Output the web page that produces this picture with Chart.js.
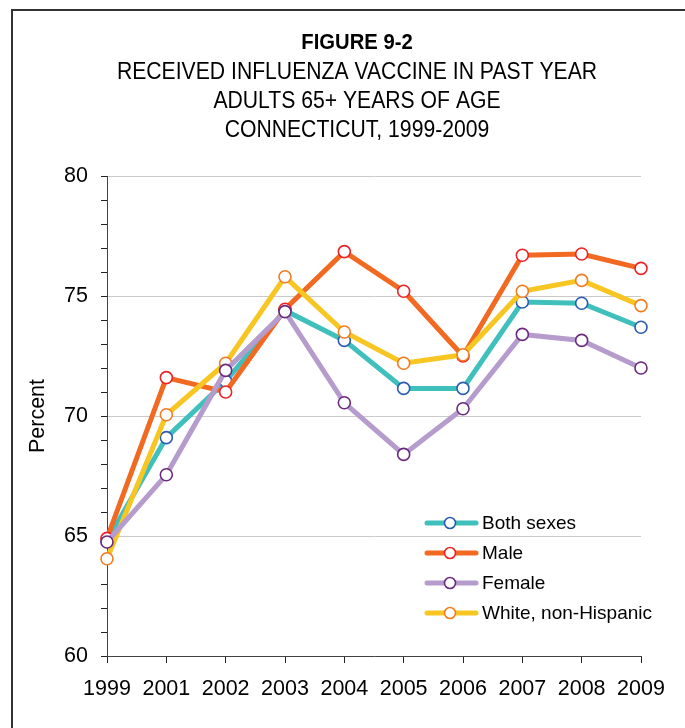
<!DOCTYPE html>
<html>
<head>
<meta charset="utf-8">
<script src="https://cdn.jsdelivr.net/npm/chart.js@4/dist/chart.umd.min.js"></script>
<style>
  html, body { margin: 0; padding: 0; background: #fff; }
  #wrap { position: relative; width: 685px; height: 728px; overflow: hidden; }
  #frame { position: absolute; left: 11px; top: 9px; width: 720px; height: 760px;
           border-left: 2px solid #333; border-top: 2px solid #333; }
  canvas { position: absolute; left: 0; top: 0; }
</style>
</head>
<body>
<div id="wrap">
  <div id="frame"></div>
  <canvas id="chart" width="685" height="728"></canvas>
</div>
<script>
// Survey years (2000 was not collected)
const years = ['1999', '2001', '2002', '2003', '2004', '2005', '2006', '2007', '2008', '2009'];

// Percent of adults 65+ who received a flu shot in the past year
const bothSexes        = [64.8, 69.1, 71.45, 74.4, 73.15, 71.15, 71.15, 74.75, 74.7, 73.7];
const male             = [64.9, 71.6, 71.0, 74.45, 76.85, 75.2, 72.5, 76.7, 76.75, 76.15];
const female           = [64.75, 67.55, 71.9, 74.35, 70.55, 68.4, 70.3, 73.4, 73.15, 72.0];
const whiteNonHispanic = [64.05, 70.05, 72.2, 75.8, 73.5, 72.2, 72.55, 75.2, 75.65, 74.6];

const seriesNames = ['Both sexes', 'Male', 'Female', 'White, non-Hispanic'];

const figureLabel = 'FIGURE 9-2';
const titleLines = [
  'RECEIVED INFLUENZA VACCINE IN PAST YEAR',
  'ADULTS 65+ YEARS OF AGE',
  'CONNECTICUT, 1999-2009'
];

const SANS = '"Liberation Sans", Arial, sans-serif';

function series(label, data, line, marker, order) {
  return {
    label, data, order,
    borderColor: line,
    backgroundColor: line,
    borderWidth: 5,
    tension: 0,
    pointRadius: 6,
    pointHoverRadius: 6,
    pointBorderWidth: 1.6,
    pointBackgroundColor: '#ffffff',
    pointBorderColor: marker
  };
}

// Condensed heading block above the plot
const heading = {
  id: 'heading',
  afterDraw(chart) {
    const { ctx } = chart;
    const cx = 357;
    const draw = (text, font, y, squeeze) => {
      ctx.save();
      ctx.translate(cx, y);
      ctx.scale(squeeze, 1);
      ctx.font = font;
      ctx.fillStyle = '#000';
      ctx.textAlign = 'center';
      ctx.textBaseline = 'middle';
      ctx.fillText(text, 0, 0);
      ctx.restore();
    };
    draw(figureLabel, 'bold 22px ' + SANS, 43, 0.92);
    titleLines.forEach((t, i) => draw(t, '23px ' + SANS, 73 + i * 29, 0.92));
  }
};

// Legend drawn inside the plot: a short line with a marker, then the label
const insideLegend = {
  id: 'insideLegend',
  afterDraw(chart) {
    const { ctx, chartArea } = chart;
    const x0 = chartArea.right - 216;
    const y0 = chartArea.bottom - 133;
    ctx.save();
    ctx.font = '19px ' + SANS;
    ctx.textBaseline = 'middle';
    ctx.textAlign = 'left';
    chart.data.datasets.forEach((ds, i) => {
      const y = y0 + i * 30;
      ctx.lineCap = 'round';
      ctx.strokeStyle = ds.borderColor;
      ctx.lineWidth = 5;
      ctx.beginPath();
      ctx.moveTo(x0 + 2, y);
      ctx.lineTo(x0 + 51, y);
      ctx.stroke();
      ctx.beginPath();
      ctx.arc(x0 + 25, y, 5.5, 0, Math.PI * 2);
      ctx.fillStyle = '#fff';
      ctx.fill();
      ctx.lineWidth = 1.6;
      ctx.strokeStyle = ds.pointBorderColor;
      ctx.stroke();
      ctx.fillStyle = '#000';
      ctx.fillText(ds.label, x0 + 57, y + 1);
    });
    ctx.restore();
  }
};

new Chart(document.getElementById('chart'), {
  type: 'line',
  data: {
    labels: years,
    datasets: [
      series(seriesNames[0], bothSexes, '#40c0bd', '#2a5db0', 4),
      series(seriesNames[1], male, '#f26a22', '#ee2225', 3),
      series(seriesNames[2], female, '#b59ccc', '#6b2a80', 1),
      series(seriesNames[3], whiteNonHispanic, '#f7c623', '#f47b20', 2)
    ]
  },
  options: {
    responsive: false,
    animation: false,
    layout: { padding: { left: 25, right: 44, top: 176, bottom: 8 } },
    plugins: {
      legend: { display: false },
      tooltip: { enabled: false },
      title: { display: false },
      subtitle: { display: false }
    },
    scales: {
      x: {
        type: 'category',
        offset: false,
        border: { color: '#444', width: 1 },
        grid: { drawOnChartArea: false, drawTicks: true, tickLength: 7, tickColor: '#222', offset: false },
        ticks: { color: '#000', font: { family: SANS, size: 21.5 }, padding: 13, autoSkip: false, maxRotation: 0 },
        afterFit(scale) { scale.height = 64; }
      },
      y: {
        min: 60,
        max: 80,
        border: { color: '#444', width: 1 },
        grid: {
          color: (c) => (c.tick && c.tick.value % 5 === 0) ? '#cacaca' : 'rgba(0,0,0,0)',
          lineWidth: 1,
          drawTicks: true,
          tickLength: 6,
          tickColor: '#222'
        },
        ticks: {
          stepSize: 1,
          autoSkip: false,
          color: '#000',
          font: { family: SANS, size: 21.5 },
          padding: 13,
          callback: (v) => (v % 5 === 0 ? v : '')
        },
        title: {
          display: true,
          text: 'Percent',
          color: '#000',
          font: { family: SANS, size: 21.5 },
          padding: { top: 0, bottom: 0 }
        },
        afterFit(scale) { scale.width = 82; }
      }
    }
  },
  plugins: [heading, insideLegend]
});
</script>
</body>
</html>
